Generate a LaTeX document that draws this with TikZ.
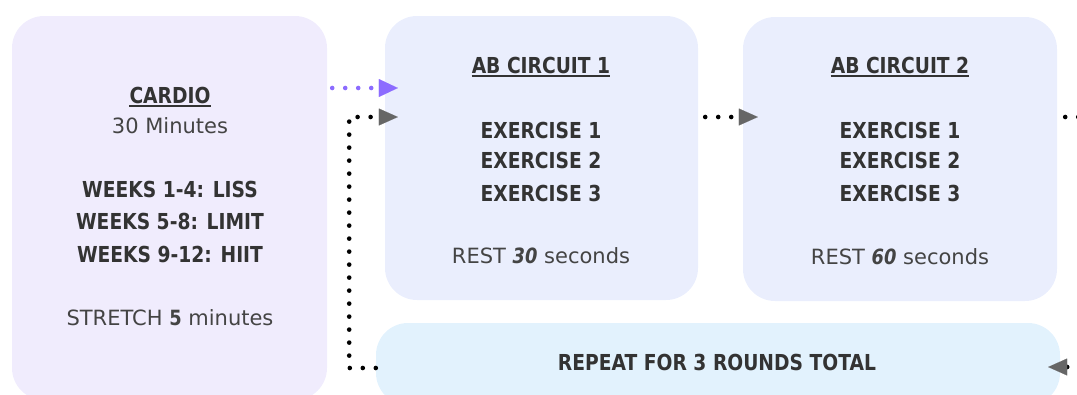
\documentclass[tikz,border=0pt]{standalone}
\usepackage{fontspec}
\setmainfont{DejaVu Sans}[BoldFeatures={FakeStretch=0.85},BoldItalicFeatures={FakeStretch=0.85}]
\usetikzlibrary{arrows.meta,calc}
\definecolor{cardiofill}{RGB}{240,236,253}
\definecolor{circfill}{RGB}{234,238,253}
\definecolor{repfill}{RGB}{226,242,253}
\definecolor{txt}{RGB}{51,51,51}
\definecolor{txtreg}{RGB}{68,68,68}
\definecolor{purp}{RGB}{140,108,255}
\definecolor{tipgray}{RGB}{102,102,102}
\begin{document}
\begin{tikzpicture}[x=1pt,y=-1pt,
 box/.style={rectangle, rounded corners=32pt, inner sep=0pt, draw=none},
 bt/.style={anchor=base, inner sep=0pt, text=txt, font=\fontsize{22}{26}\selectfont\bfseries},
 rt/.style={anchor=base, inner sep=0pt, text=txtreg, font=\fontsize{21}{25}\selectfont},
 uline/.style={txt, line width=1.6pt},
 dots/.style={line width=4.6pt, line cap=round, dash pattern=on 0pt off 13pt},
 grayarrow/.style={dots, black, -{Triangle[length=19pt,width=17pt,line width=0.01pt,color=tipgray]}},
 purarrow/.style={dots, purp, -{Triangle[length=19pt,width=18pt,line width=0.01pt]}}]
\useasboundingbox (0,0) rectangle (1077,394);
% boxes
\node[box, fill=cardiofill, minimum width=315pt, minimum height=384pt] (cardio) at (169.5,208) {};
\node[box, fill=circfill, minimum width=313pt, minimum height=284pt] (circA) at (541.5,158) {};
\node[box, fill=circfill, minimum width=314pt, minimum height=284pt] (circB) at (900,159) {};
\node[box, fill=repfill, minimum width=684pt, minimum height=82pt] (rep) at (718,364) {};
% cardio text
\node[bt] (cardioT) at (170,103) {CARDIO};
\draw[uline] ([yshift=-3pt]cardioT.base west) -- ([yshift=-3pt]cardioT.base east);
\node[rt] (cardioM) at (170,133) {30 Minutes};
\node[bt] (wk1) at (170,197) {WEEKS 1-4: LISS};
\node[bt] (wk2) at (170,229) {WEEKS 5-8: LIMIT};
\node[bt] (wk3) at (170,262) {WEEKS 9-12: HIIT};
\node[rt] (str) at (170,325) {STRETCH \textbf{5} minutes};
% circuit 1
\node[bt] (aT) at (541,73) {AB CIRCUIT 1};
\draw[uline] ([yshift=-3pt]aT.base west) -- ([yshift=-3pt]aT.base east);
\node[bt] (a1) at (541,138) {EXERCISE 1};
\node[bt] (a2) at (541,168) {EXERCISE 2};
\node[bt] (a3) at (541,201) {EXERCISE 3};
\node[rt] (aR) at (541,263) {REST \textbf{\textit{30}} seconds};
% circuit 2
\node[bt] (bT) at (900,73) {AB CIRCUIT 2};
\draw[uline] ([yshift=-3pt]bT.base west) -- ([yshift=-3pt]bT.base east);
\node[bt] (b1) at (900,138) {EXERCISE 1};
\node[bt] (b2) at (900,168) {EXERCISE 2};
\node[bt] (b3) at (900,201) {EXERCISE 3};
\node[rt] (bR) at (900,264) {REST \textbf{\textit{60}} seconds};
% repeat
\node[bt] (repT) at (717,370) {REPEAT FOR 3 ROUNDS TOTAL};
% connectors
\draw[purarrow] ($(cardio.east |- 0,88)+(5,0)$) -- ($(circA.west |- 0,88)+(13,0)$);
\draw[grayarrow] (rep.west |- 0,368) -| ($(cardio.east |- 0,117)+(22,0)$) -- ($(circA.west |- 0,117)+(13,0)$);
\draw[grayarrow] ($(circA.east |- 0,117)+(7,0)$) -- ($(circB.west |- 0,117)+(15,0)$);
\draw[grayarrow] ($(circB.east |- 0,117)+(8,0)$) -| ($(circB.east |- 0,367)+(40,0)$) -- ($(rep.east |- 0,367)+(-12,0)$);
\end{tikzpicture}
\end{document}
